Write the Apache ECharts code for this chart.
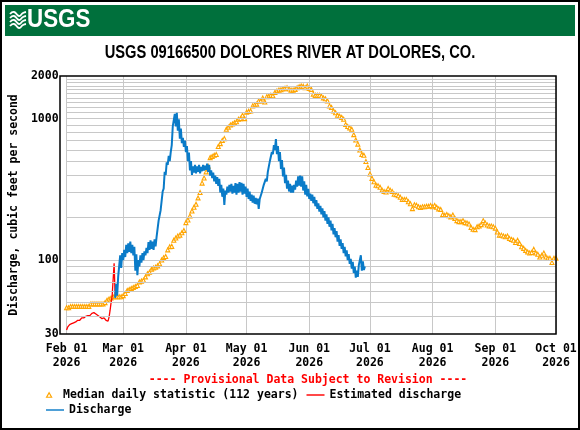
<!DOCTYPE html>
<html>
<head>
<meta charset="utf-8">
<script src="https://cdn.jsdelivr.net/npm/echarts@6/dist/echarts.min.js"></script>
<style>
  html, body { margin: 0; padding: 0; background: #fff; }
  #chart { width: 580px; height: 430px; }
</style>
</head>
<body>
<div id="chart"></div>
<script>
// median daily statistic, one value per day from Feb 01
const medFeb = [46,46,47,47,47,47,47,47,47,47,47,47,49,49,49,49,49,49,49,50,52,53,54,55,55,55,55,55];
const medMar = [56,58,61,62,63,64,65,66,70,71,72,76,80,82,86,88,89,91,94,100,104,106,118,124,125,138,143,148,150,156,162];
const medApr = [184,192,205,222,236,248,275,300,350,380,420,460,530,540,550,557,635,665,700,722,840,870,900,915,935,950,990,1000,1055,1000];
const medMay = [1110,1125,1130,1230,1250,1265,1330,1330,1400,1310,1430,1440,1460,1450,1530,1570,1590,1600,1620,1640,1650,1620,1590,1590,1610,1650,1680,1700,1690,1650,1700];
const medJun = [1630,1610,1490,1460,1460,1460,1440,1400,1380,1330,1230,1200,1130,1100,1055,1040,1020,990,910,880,860,840,770,705,660,600,557,550,497,451];
const medJul = [406,378,358,338,335,327,312,305,303,320,312,305,292,290,285,278,268,268,268,258,250,231,246,244,238,235,238,238,240,240,243];
const medAug = [238,243,236,230,228,210,207,210,206,202,208,197,190,187,187,190,184,183,180,170,165,164,172,174,178,190,183,177,174,174,172];
const medSep = [168,158,150,150,148,146,148,142,140,138,133,138,131,124,121,117,114,112,113,119,112,110,105,108,112,105,103,103,96,103];
const medOct = [103];

// estimated discharge, every 12 h from Feb 01 00:00
const estimated = [32,33.5,34.5,35,35.5,35.5,36,36,36.5,36.5,37,37.5,38,37.5,38.5,39,39.5,39,39.5,40,
  40,40.5,41,40.5,41.5,42,42,42.5,42,41.5,41,40.5,40,39.5,39,38.5,38.5,39,38,37.5,
  36.5,37,39.5,44,50,55,56,95,56];

// discharge, every 12 h from Feb 25 00:00
const qFeb = [54,68, 56,76, 75,108, 88,112];
const qMar = [100,118, 105,128, 112,131, 114,135, 112,128, 108,124, 84,110, 78,100, 90,108, 96,112,
  100,115, 108,122, 112,134, 118,138, 120,135, 118,140, 125,146, 150,190, 195,225, 230,305,
  320,420, 400,490, 470,545, 500,580, 650,880, 860,1080, 880,1100, 820,990, 720,850, 670,730, 630,700];
const qApr = [580,640, 500,575, 430,500, 400,460, 415,470, 410,460, 420,470, 410,455, 425,470, 430,465,
  435,480, 420,470, 395,430, 380,415, 360,395, 345,385, 335,375, 300,340, 280,320, 245,310,
  290,330, 300,340, 305,345, 295,335, 300,350, 290,345, 300,355, 305,352, 290,345, 295,330];
const qMay = [280,320, 270,305, 262,290, 255,285, 250,275, 248,272, 230,270, 262,300, 295,340, 330,375,
  360,420, 420,500, 490,580, 560,650, 600,715, 560,640, 500,580, 440,510, 390,450, 350,400,
  320,365, 305,345, 300,335, 300,340, 315,365, 330,390, 335,395, 330,390, 310,360, 290,340, 282,318];
const qJun = [270,295, 262,290, 252,280, 240,265, 230,252, 220,242, 210,232, 200,222, 190,210, 180,200,
  172,190, 162,180, 152,168, 145,160, 135,150, 126,140, 120,132, 112,124, 106,117, 100,110,
  94,102, 87,97, 81,90, 75,84, 76,92, 90,108, 84,98, 85,90];

// horizontal grid values (log axis)
const yGrid = [40,50,60,70,80,90,100,200,300,400,500,600,700,800,900,1000,1100,1200,1300,1400,1500,1600,1700,1800,1900];
const MONTHS = ['Jan','Feb','Mar','Apr','May','Jun','Jul','Aug','Sep','Oct','Nov','Dec'];

const MONO = '"DejaVu Sans Mono", monospace';
const SANS = '"Liberation Sans", Arial, sans-serif';
const LINE_ICON = 'path://M0,0 L20,0 L20,1.6 L0,1.6 Z';

const medianVals = [].concat(medFeb, medMar, medApr, medMay, medJun, medJul, medAug, medSep, medOct);
const medianData = medianVals.map((v, i) => [new Date(2026, 1, 1 + i).getTime(), v]);
const estData = estimated.map((v, i) => [new Date(2026, 1, 1, 12 * i).getTime(), v]);
const qVals = [].concat(qFeb, qMar, qApr, qMay, qJun);
const qData = qVals.map((v, i) => [new Date(2026, 1, 25, 12 * i).getTime(), v]);

const pad = n => (n < 10 ? '0' + n : '' + n);

const chart = echarts.init(document.getElementById('chart'), null, { renderer: 'canvas' });

const monoText = { fontFamily: MONO, fontSize: 11.5, fontWeight: 'bold', color: '#000' };

const option = {
  animation: false,
  backgroundColor: '#fff',
  title: {
    text: '---- Provisional Data Subject to Revision ----',
    left: 308,
    top: 374,
    textAlign: 'center',
    padding: 0,
    textStyle: { fontFamily: MONO, fontSize: 11.5, fontWeight: 'bold', color: '#ff0000' }
  },
  grid: { left: 60, top: 76, right: 24, bottom: 96, containLabel: false },
  legend: [
    {
      left: 46, top: 389, itemWidth: 18, itemHeight: 4.5, itemGap: 8, padding: 0,
      textStyle: monoText,
      selectedMode: false,
      data: [
        {
          name: 'Median daily statistic (112 years)',
          icon: 'path://M5,0 L10,9 L0,9 Z',
          itemStyle: { color: '#fff', borderColor: '#ffa500', borderWidth: 1.2 }
        },
        { name: 'Estimated discharge', icon: LINE_ICON, itemStyle: { color: '#ff0000' } }
      ]
    },
    {
      left: 46, top: 404, itemWidth: 18, itemHeight: 4.5, padding: 0,
      textStyle: monoText,
      selectedMode: false,
      data: [{ name: 'Discharge', icon: LINE_ICON, itemStyle: { color: '#0a7bc8' } }]
    }
  ],
  xAxis: {
    type: 'time',
    min: new Date(2026, 1, 1).getTime(),
    max: new Date(2026, 9, 1).getTime(),
    splitNumber: 8,
    minInterval: 28 * 86400000,
    axisLine: { show: false },
    axisTick: { show: false },
    splitLine: { show: true, lineStyle: { color: '#c8c8c8', width: 1 } },
    axisLabel: Object.assign({
      showMinLabel: true,
      showMaxLabel: true,
      margin: 8,
      lineHeight: 14,
      formatter: v => {
        const d = new Date(v);
        return MONTHS[d.getMonth()] + ' ' + pad(d.getDate()) + '\n' + d.getFullYear();
      }
    }, monoText)
  },
  yAxis: {
    type: 'log',
    logBase: 10,
    min: 30,
    max: 2000,
    name: 'Discharge, cubic feet per second',
    nameLocation: 'middle',
    nameGap: 46,
    nameTextStyle: monoText,
    axisLine: { show: false },
    axisTick: { show: false },
    splitLine: { show: false },
    axisLabel: Object.assign({ margin: 8, formatter: v => String(Math.round(v)) }, monoText)
  },
  series: [
    {
      name: 'grid',
      type: 'line',
      data: [],
      z: 1,
      silent: true,
      markLine: {
        silent: true,
        symbol: 'none',
        animation: false,
        label: { show: false },
        lineStyle: { color: '#c8c8c8', width: 1, type: 'solid' },
        data: yGrid.map(v => ({ yAxis: v }))
      }
    },
    {
      name: 'Median daily statistic (112 years)',
      type: 'scatter',
      data: medianData,
      symbol: 'triangle',
      symbolSize: 4,
      z: 3,
      itemStyle: { color: '#fff', borderColor: '#ffa500', borderWidth: 1.1, opacity: 1 }
    },
    {
      name: 'Estimated discharge',
      type: 'line',
      data: estData,
      showSymbol: false,
      symbol: 'none',
      z: 4,
      itemStyle: { color: '#ff0000' },
      lineStyle: { color: '#ff0000', width: 1.3 }
    },
    {
      name: 'Discharge',
      type: 'line',
      data: qData,
      showSymbol: false,
      symbol: 'none',
      z: 5,
      itemStyle: { color: '#0a7bc8' },
      lineStyle: { color: '#0a7bc8', width: 2 }
    }
  ],
  graphic: [
    { type: 'rect', shape: { x: 1, y: 1, width: 578, height: 428 }, style: { fill: null, stroke: '#000', lineWidth: 2 }, z: 100 },
    { type: 'rect', shape: { x: 5, y: 5, width: 570, height: 31 }, style: { fill: '#00703c' }, z: 100 },
    {
      type: 'group', z: 101,
      children: [0, 1, 2, 3].map(k => ({
        type: 'polyline',
        shape: { points: [[10, 14 + k * 4], [14, 12 + k * 4], [19, 16 + k * 4], [23, 13 + k * 4], [26, 12 + k * 4]], smooth: 0.5 },
        style: { stroke: '#fff', lineWidth: 1.8, fill: null },
        z: 101
      }))
    },
    {
      type: 'text', x: 27, y: 20, scaleX: 0.86, z: 101,
      style: { text: 'USGS', fill: '#fff', font: 'bold 26px ' + SANS, verticalAlign: 'middle' }
    },
    {
      type: 'text', x: 290, y: 53, scaleX: 0.84, z: 101,
      style: { text: 'USGS 09166500 DOLORES RIVER AT DOLORES, CO.', fill: '#000', font: 'bold 17.5px ' + SANS, align: 'center', verticalAlign: 'middle' }
    },
    { type: 'rect', shape: { x: 60, y: 76, width: 496, height: 258 }, style: { fill: null, stroke: '#000', lineWidth: 1.5 }, z: 100 }
  ]
};

chart.setOption(option);
</script>
</body>
</html>
